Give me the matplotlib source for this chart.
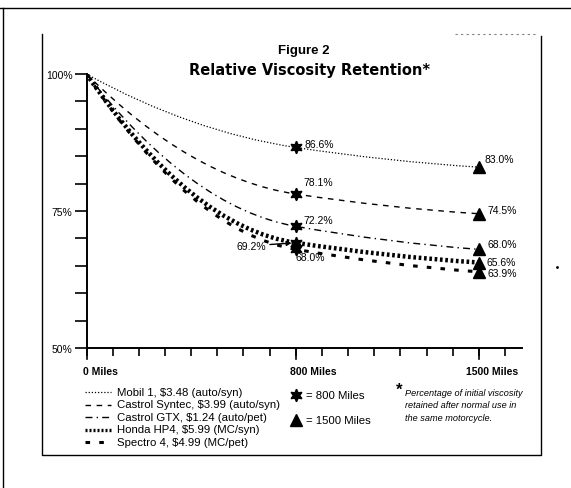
import matplotlib
matplotlib.use('Agg')
from matplotlib import pyplot as plt
from matplotlib.path import Path
from matplotlib.patches import PathPatch
from matplotlib.lines import Line2D
import numpy as np

plt.rcParams['font.family'] = ['Liberation Sans', 'DejaVu Sans']

miles = [0, 800, 1500]
oils = ['Mobil 1, \\$3.48 (auto/syn)',
        'Castrol Syntec, \\$3.99 (auto/syn)',
        'Castrol GTX, \\$1.24 (auto/pet)',
        'Honda HP4, \\$5.99 (MC/syn)',
        'Spectro 4, \\$4.99 (MC/pet)']
retention = [[100, 86.6, 83.0],
             [100, 78.1, 74.5],
             [100, 72.2, 68.0],
             [100, 69.2, 65.6],
             [100, 68.0, 63.9]]

styles = [dict(ls=(0, (1, 1.5)), lw=0.9),
          dict(ls=(0, (4, 4)), lw=1.0),
          dict(ls=(0, (5, 3, 1, 3)), lw=1.0),
          dict(ls=(0, (0.6, 0.6)), lw=3.2),
          dict(ls=(0, (1.5, 3)), lw=2.2)]

W, H = 571, 489
fig = plt.figure(figsize=(W / 100, H / 100), dpi=100)
ax = fig.add_axes([86.5 / W, 1 - 349 / H, (522 - 86.5) / W, (349 - 75) / H])
ax.set_xlim(0, 1665)
ax.set_ylim(50, 100)


def curve(x, y):
    # smooth path through the three readings
    s1 = (y[2] - y[1]) / (x[2] - x[1]) * 1.4
    s0 = 2 * (y[1] - y[0]) / (x[1] - x[0]) - s1
    s2 = (y[2] - y[1]) / (x[2] - x[1]) * 0.6
    d1 = (x[1] - x[0]) / 3
    d2 = (x[2] - x[1]) / 3
    verts = [(x[0], y[0]), (x[0] + d1, y[0] + s0 * d1), (x[1] - d1, y[1] - s1 * d1), (x[1], y[1]),
             (x[1] + d2, y[1] + s1 * d2), (x[2] - d2, y[2] - s2 * d2), (x[2], y[2])]
    codes = [Path.MOVETO] + [Path.CURVE4] * 6
    return Path(verts, codes)


star = (6, 1, 0)
for vals, st in zip(retention, styles):
    ax.add_patch(PathPatch(curve(miles, vals), fill=False, color='black',
                           linestyle=st['ls'], lw=st['lw'], capstyle='butt'))
    ax.plot(miles[1], vals[1], marker=star, color='black', ms=9, ls='none')
    ax.plot(miles[2], vals[2], marker='^', color='black', ms=8, ls='none')

# point labels (offsets in pixels)
fs = 7.5
labels_800 = [(9, 3, 'left'), (8, 12, 'left'), (8, 6, 'left'), (-30, -3, 'right'), (0, -8, 'left')]
labels_1500 = [(6, 8, 'left'), (9, 4, 'left'), (9, 5, 'left'), (8, 1, 'left'), (9, -1, 'left')]
for vals, (dx, dy, ha) in zip(retention, labels_800):
    if ha == 'right':
        ax.annotate('%.1f%%' % vals[1], (miles[1], vals[1]), xytext=(dx, dy), textcoords='offset pixels',
                    fontsize=fs, ha=ha, va='center',
                    arrowprops=dict(arrowstyle='-|>', lw=1, color='black', shrinkA=1, shrinkB=3,
                                    mutation_scale=7))
    else:
        ax.annotate('%.1f%%' % vals[1], (miles[1], vals[1]), xytext=(dx, dy), textcoords='offset pixels',
                    fontsize=fs, ha=ha, va='center')
for vals, (dx, dy, ha) in zip(retention, labels_1500):
    ax.annotate('%.1f%%' % vals[2], (miles[2], vals[2]), xytext=(dx, dy), textcoords='offset pixels',
                fontsize=fs, ha=ha, va='center')

# axes styling
for s in ['top', 'right']:
    ax.spines[s].set_visible(False)
ax.spines['left'].set_linewidth(1.4)
ax.spines['bottom'].set_linewidth(1.4)
ax.set_yticks(np.arange(50, 101, 5))
ax.set_yticklabels(['50%', '', '', '', '', '75%', '', '', '', '', '100%'], fontsize=7.5)
ax.tick_params(axis='y', length=9, width=1.2, pad=1)
ax.set_xticks(np.arange(0, 1601, 100))
ax.set_xticklabels([])
ax.tick_params(axis='x', length=6, width=1.2, direction='out')
trans = ax.get_xaxis_transform()
for m in [0, 800, 1500]:
    ax.plot([m, m], [0, -0.04], color='black', lw=1.2, transform=trans, clip_on=False)
ax.text(-12, -0.085, '0 Miles', transform=trans, ha='left', va='center', fontsize=7.5, fontweight='bold')
ax.text(777, -0.085, '800 Miles', transform=trans, ha='left', va='center', fontsize=7.5, fontweight='bold')
ax.text(1550, -0.085, '1500 Miles', transform=trans, ha='center', va='center', fontsize=7.5, fontweight='bold')

# titles
fig.text(304 / W, 1 - 51 / H, 'Figure 2', ha='center', va='center', fontsize=9.5, fontweight='bold')
fig.text(310 / W, 1 - 70 / H, 'Relative Viscosity Retention*', ha='center', va='center',
         fontsize=10.5, fontweight='bold', family='DejaVu Sans')

# legend for the oils
for i, (name, st) in enumerate(zip(oils, styles)):
    yy = 1 - (393 + 12.5 * i) / H
    fig.add_artist(Line2D([85 / W, 111 / W], [yy, yy], color='black', ls=st['ls'],
                          lw=min(st['lw'], 2.4), transform=fig.transFigure))
    fig.text(117 / W, yy, name, ha='left', va='center', fontsize=8.2)

# marker key
fig.add_artist(Line2D([296 / W], [1 - 396 / H], marker=star, color='black', ms=9,
                      transform=fig.transFigure))
fig.text(306 / W, 1 - 396 / H, '= 800 Miles', ha='left', va='center', fontsize=8.2)
fig.add_artist(Line2D([296 / W], [1 - 421 / H], marker='^', color='black', ms=8,
                      transform=fig.transFigure))
fig.text(306 / W, 1 - 421 / H, '= 1500 Miles', ha='left', va='center', fontsize=8.2)

# footnote
fig.text(396 / W, 1 - 390 / H, '*', ha='left', va='center', fontsize=12, fontweight='bold')
fig.text(405 / W, 1 - 389 / H, 'Percentage of initial viscosity\nretained after normal use in\nthe same motorcycle.',
         ha='left', va='top', fontsize=6.6, style='italic', linespacing=1.5)


# frame around the figure box
def fl(x, y, **kw):
    fig.add_artist(Line2D([v / W for v in x], [1 - v / H for v in y], color='black',
                          transform=fig.transFigure, **kw))


fl([42, 42, 541, 541], [35, 456, 456, 37], lw=1.0)
fl([455, 535], [35, 35], lw=0.8, ls=(0, (2, 3)), alpha=0.5)
# page edges from the scan
fl([0, 571], [9, 9], lw=1.0)
fl([3, 3], [9, 489], lw=1.0)
fl([557], [268], marker='.', ms=2)

fig.savefig('out.png', dpi=100)
